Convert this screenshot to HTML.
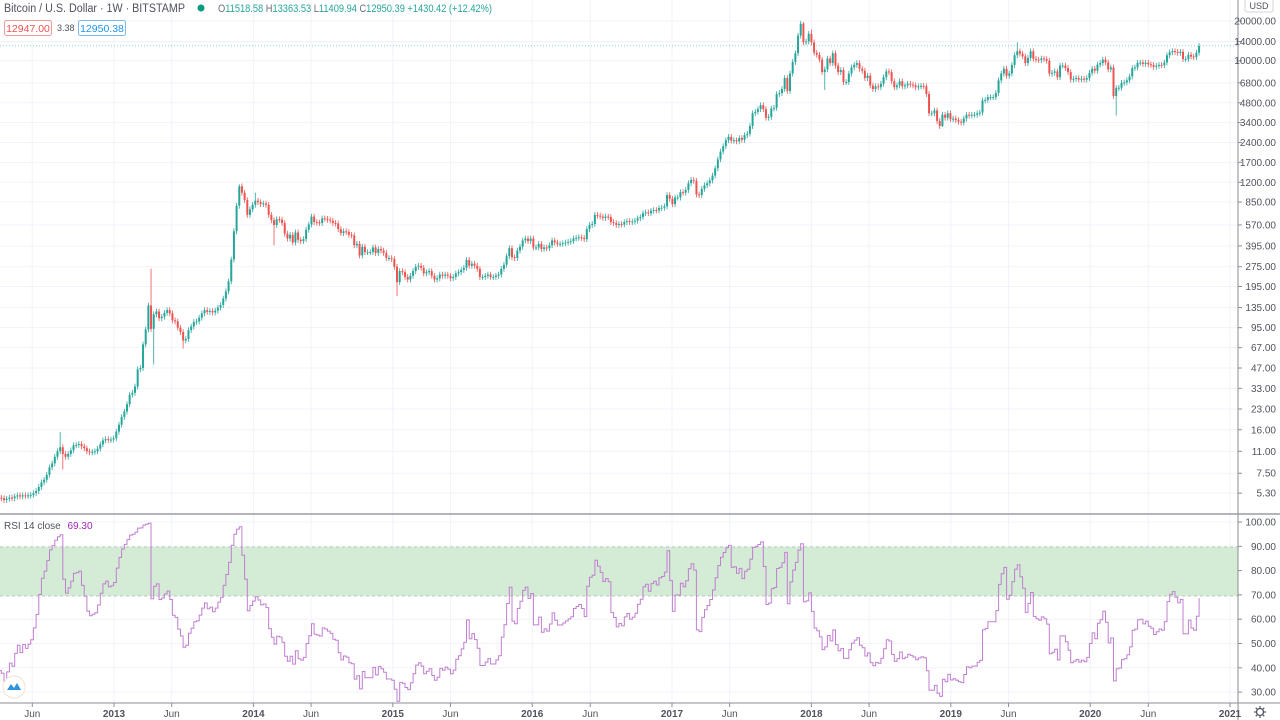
<!DOCTYPE html>
<html><head><meta charset="utf-8"><style>
html,body{margin:0;padding:0;background:#fff;}
svg{display:block;font-family:"Liberation Sans",sans-serif;}
</style></head><body>
<svg id="chart" width="1280" height="720" viewBox="0 0 1280 720" xmlns="http://www.w3.org/2000/svg">
<defs><clipPath id="plotclip"><rect x="0" y="0" width="1238" height="703"/></clipPath></defs>
<rect x="0" y="0" width="1280" height="720" fill="#ffffff"/>
<g id="grid"></g>
<rect x="0" y="547" width="1238" height="49" fill="#d4ebd5"/>
<line x1="0" y1="547" x2="1238" y2="547" stroke="#b9c9ba" stroke-dasharray="3,3"/>
<line x1="0" y1="596" x2="1238" y2="596" stroke="#b9c9ba" stroke-dasharray="3,3"/>
<g id="candles" clip-path="url(#plotclip)"></g>
<g id="rsi" clip-path="url(#plotclip)"></g>
<line id="lastline" x1="0" x2="1238" stroke="#26a69a" stroke-opacity="0.5" stroke-dasharray="1,2"/>
<line x1="0" y1="514" x2="1280" y2="514" stroke="#b2b5be" stroke-width="2"/>
<line x1="1238" y1="0" x2="1238" y2="720" stroke="#8a8d96"/>
<line x1="0" y1="703" x2="1280" y2="703" stroke="#8a8d96"/>
<g id="yticks" font-size="10" fill="#50535e"></g>
<g id="rticks" font-size="10" fill="#50535e"></g>
<g id="xticks" font-size="10" fill="#50535e"></g>
<g>
<rect x="1245" y="-4" width="28" height="16" rx="2" fill="#fff" stroke="#d1d4dc"/>
<text x="1259" y="9" font-size="9" fill="#50535e" text-anchor="middle">USD</text>
</g>
<g font-size="11.5">
<text x="4" y="12" fill="#50535e" textLength="181" lengthAdjust="spacingAndGlyphs">Bitcoin / U.S. Dollar · 1W · BITSTAMP</text>
<circle cx="201" cy="8" r="3.5" fill="#089981"/>
<text x="218" y="12" font-size="11" fill="#26a69a" textLength="274" lengthAdjust="spacingAndGlyphs"><tspan fill="#6a6d78">O</tspan>11518.58 <tspan fill="#6a6d78">H</tspan>13363.53 <tspan fill="#6a6d78">L</tspan>11409.94 <tspan fill="#6a6d78">C</tspan>12950.39 +1430.42 (+12.42%)</text>
<rect x="4.5" y="20.5" width="47" height="15" rx="2" fill="#fff" stroke="#f19a98"/>
<text x="28" y="32" font-size="10.5" fill="#ef5350" text-anchor="middle">12947.00</text>
<text x="57" y="31" font-size="9" fill="#50535e">3.38</text>
<rect x="78.5" y="20.5" width="47" height="15" rx="2" fill="#fff" stroke="#7ab8e6"/>
<text x="102" y="32" font-size="10.5" fill="#2196f3" text-anchor="middle">12950.38</text>
</g>
<text x="4" y="529" font-size="10" fill="#50535e">RSI 14 close <tspan fill="#9c27b0" dx="4">69.30</tspan></text>
<g>
<circle cx="14" cy="687" r="11" fill="#fff" stroke="#f1e4d5"/>
<path d="M7,690 L11,684 L14,688 L17,683 L21,690 Z" fill="#2e93dd"/>
</g>
<g transform="translate(1260,712)" fill="none" stroke="#50535e" stroke-width="1.3">
<circle r="3.5"/><path d="M0,-6V-4.2M0,4.2V6M-6,0H-4.2M4.2,0H6M-4.2,-4.2L-3,-3M3,3L4.2,4.2M-4.2,4.2L-3,3M3,-3L4.2,-4.2"/>
</g>
</svg>
<script>
// Weekly closes, one array per year (pre-history seeds RSI; 2020 ends mid-October)
const closesPre=[5.3,5.5,5.2,5.0,5.1,4.9,4.95,4.8,4.9,4.85,4.75,4.8,4.7,4.75];
const closes2012=[4.9,4.85,4.7,4.8,4.9,4.85,5.0,5.1,5.0,5.1,5.05,5.1,5.15,5.3,5.5,5.9,6.4,6.7,7.3,8.3,8.9,10.0,11.0,11.8,10.5,10.0,10.5,11.2,12.2,12.3,12.5,12.0,11.6,11.0,10.8,10.9,11.0,11.5,12.4,13.3,13.6,13.4,13.5];
const closes2013=[13.8,15.5,17.5,20,22,25,29.5,30.5,34,46,47,71,92,140,93,120,126,112,115,123,129,122,108,106,95,88,76,78,91,97,105,106,113,122,129,125,127,124,128,135,141,158,179,213,312,511,796,1120,1000,880,680,750];
const closes2014=[810,870,850,820,830,810,680,620,570,630,625,590,490,450,480,420,500,440,430,445,525,575,660,600,595,590,640,635,625,615,590,585,530,495,510,505,480,475,400,410,335,390,355,355,355,385,350,375,365,350,320,320];
const closes2015=[315,275,210,255,250,230,220,235,255,275,280,270,245,250,255,235,220,225,240,235,240,235,225,230,245,250,260,270,310,280,290,280,265,230,230,235,240,230,230,235,240,265,285,330,380,325,320,365,390,435,450,430];
const closes2016=[450,385,385,410,375,385,380,400,435,420,410,410,415,420,425,430,450,455,460,455,445,530,570,580,680,670,660,645,660,655,600,590,570,580,575,600,610,600,605,615,640,655,700,710,700,730,740,735,765,770,790,960];
const closes2017=[900,820,920,920,1010,1000,1050,1180,1250,1230,970,960,1070,1140,1180,1240,1350,1530,1790,2050,2250,2500,2650,2480,2500,2450,2600,2520,2730,2800,3200,4000,4100,4300,4600,4300,3700,3750,4350,4400,5600,5700,6100,7400,5900,8000,9800,11400,15500,19100,13800,14000];
const closes2018=[16000,13800,11500,11100,10200,8200,8600,10400,9600,11400,9200,8200,8500,6900,6900,8000,8900,9300,9600,8700,8400,7400,7700,6500,6100,6400,6300,6700,7500,8300,8200,7000,6300,6500,7000,6400,6500,6700,6600,6500,6300,6400,6450,6400,5600,4000,4000,4200,3500,3200,3900,3700];
const closes2019=[4000,3600,3650,3550,3450,3400,3650,3900,3850,3900,3900,4000,4050,5000,5050,5300,5300,5300,5700,7100,8000,8700,7700,8000,9300,11000,11800,11300,10800,9600,10500,11800,10350,10200,10100,10400,10300,10000,8000,8100,8300,7500,9200,9200,8800,8200,7200,7300,7400,7200,7300,7200];
const closes2020=[7400,8100,8700,8400,9350,9600,10200,9700,8600,8900,5400,6200,6250,6800,6850,7100,7600,8800,8900,9650,9700,9450,9650,9400,9300,9000,9150,9300,9250,9700,11000,11600,11850,11650,11450,11700,10300,10300,11100,10750,10650,11500,12950];
const firstOpen=5.2;
const highSpikes=[["2012-08-13",15.4],["2013-04-08",266],["2013-11-25",1160],["2014-01-06",1000],["2017-12-11",19700],["2018-01-01",17200],["2019-06-24",13800]];
const lowSpikes=[["2012-08-20",8],["2013-04-15",50],["2013-07-01",66],["2014-02-24",400],["2015-01-12",165],["2018-02-05",6000],["2018-12-10",3150],["2020-03-09",3850]];
const priceTicks=["20000.00","14000.00","10000.00","6800.00","4800.00","3400.00","2400.00","1700.00","1200.00","850.00","570.00","395.00","275.00","195.00","135.00","95.00","67.00","47.00","33.00","23.00","16.00","11.00","7.50","5.30"];
const rsiTicks=["100.00","90.00","80.00","70.00","60.00","50.00","40.00","30.00"];
const timeLabels=[["2012-06-01","Jun"],["2013-01-01","2013"],["2013-06-01","Jun"],["2014-01-01","2014"],["2014-06-01","Jun"],["2015-01-01","2015"],["2015-06-01","Jun"],["2016-01-01","2016"],["2016-06-01","Jun"],["2017-01-01","2017"],["2017-06-01","Jun"],["2018-01-01","2018"],["2018-06-01","Jun"],["2019-01-01","2019"],["2019-06-01","Jun"],["2020-01-01","2020"],["2020-06-01","Jun"],["2021-01-01","2021"]];

const NS="http://www.w3.org/2000/svg";
const closes=[].concat(closesPre,closes2012,closes2013,closes2014,closes2015,closes2016,closes2017,closes2018,closes2019,closes2020);
const DAY=86400000;
const t2013=Date.UTC(2013,0,1), t2021=Date.UTC(2021,0,1);
function xOfTime(t){return 114+(t-t2013)/(t2021-t2013)*(1230-114);}
function xOfDate(s){const p=s.split("-");return xOfTime(Date.UTC(+p[0],+p[1]-1,+p[2]));}
const lastT=Date.UTC(2020,9,12);
function tOfIndex(i){return lastT-(closes.length-1-i)*7*DAY;}
const L20000=Math.log10(20000);
function yPrice(p){return 21+(L20000-Math.log10(p))*132;}
function yRsi(v){return 522+(100-v)*2.43;}
function mk(tag,attrs,parent){const e=document.createElementNS(NS,tag);for(const k in attrs)e.setAttribute(k,attrs[k]);parent.appendChild(e);return e;}
function weekIndexOf(s){const p=s.split("-");const t=Date.UTC(+p[0],+p[1]-1,+p[2]);return Math.round((t-lastT)/(7*DAY))+closes.length-1;}

const grid=document.getElementById("grid");
const yt=document.getElementById("yticks");
priceTicks.forEach(s=>{const y=yPrice(parseFloat(s));
 const g=mk("line",{x1:0,x2:1238,y1:y,y2:y,stroke:"#f0f3fa"},grid);
 
 
 mk("line",{x1:1238,x2:1242,y1:y,y2:y,stroke:"#8a8d96"},yt);
 const t=mk("text",{x:1276,y:y+3.5,"text-anchor":"end"},yt);t.textContent=s;
 
 
});
const rt=document.getElementById("rticks");
rsiTicks.forEach(s=>{const y=yRsi(parseFloat(s));
 const g=mk("line",{x1:0,x2:1238,y1:y,y2:y,stroke:"#f0f3fa"},grid);
 
 
 mk("line",{x1:1238,x2:1242,y1:y,y2:y,stroke:"#8a8d96"},rt);
 const t=mk("text",{x:1276,y:y+3.5,"text-anchor":"end"},rt);t.textContent=s;
 
 
});
const xt=document.getElementById("xticks");
timeLabels.forEach(([d,lab])=>{const x=xOfDate(d);
 const g=mk("line",{x1:x,x2:x,y1:0,y2:703,stroke:"#f0f3fa"},grid);
 
 
 mk("line",{x1:x,x2:x,y1:703,y2:707,stroke:"#8a8d96"},xt);
 const t=mk("text",{x:x,y:717,"text-anchor":"middle","font-weight":lab.length===4?"bold":"normal"},xt);t.textContent=lab;
 
 
});

const hi={},lo={};
highSpikes.forEach(([d,v])=>hi[weekIndexOf(d)]=v);
lowSpikes.forEach(([d,v])=>lo[weekIndexOf(d)]=v);
const cg=document.getElementById("candles");
closes.forEach((c,i)=>{
 const o=i===0?firstOpen:closes[i-1];
 const up=c>=o;const col=up?"#26a69a":"#ef5350";
 const x=xOfTime(tOfIndex(i));
 if(x<-5)return;
 const h=hi[i]!==undefined?hi[i]:Math.max(o,c)*1.05;
 const l=lo[i]!==undefined?lo[i]:Math.min(o,c)*0.95;
 const w=mk("line",{x1:x,x2:x,y1:yPrice(h),y2:yPrice(l),stroke:col,"stroke-width":0.8},cg);
 
 
 const yt1=yPrice(Math.max(o,c)),yb=yPrice(Math.min(o,c));
 const b=mk("rect",{x:x-1,y:yt1,width:2,height:Math.max(1,yb-yt1),fill:col},cg);
 
 
});
const ll=document.getElementById("lastline");
ll.setAttribute("y1",yPrice(closes[closes.length-1]));ll.setAttribute("y2",yPrice(closes[closes.length-1]));

// RSI 14 (Wilder) computed from closes
const rsiVals=[];let ag=0,al=0;
for(let i=1;i<closes.length;i++){const ch=closes[i]-closes[i-1];const g=Math.max(ch,0),l=Math.max(-ch,0);
 if(i<=14){ag+=g/14;al+=l/14;}else{ag=(ag*13+g)/14;al=(al*13+l)/14;}
 rsiVals[i]=al===0?100:100-100/(1+ag/al);}
let d="";
for(let i=14;i<closes.length;i++){
 const x=xOfTime(tOfIndex(i)),y=yRsi(Math.max(26,rsiVals[i]));
 const xn=i<closes.length-1?xOfTime(tOfIndex(i+1)):x;
 if(i===14)d="M"+x.toFixed(1)+","+y.toFixed(1)+" ";
 else d+="V"+y.toFixed(1)+" ";
 d+="H"+xn.toFixed(1)+" ";
}
const rp=mk("path",{d:d,fill:"none",stroke:"#c07fd0","stroke-width":1},document.getElementById("rsi"));


</script>
</body></html>
